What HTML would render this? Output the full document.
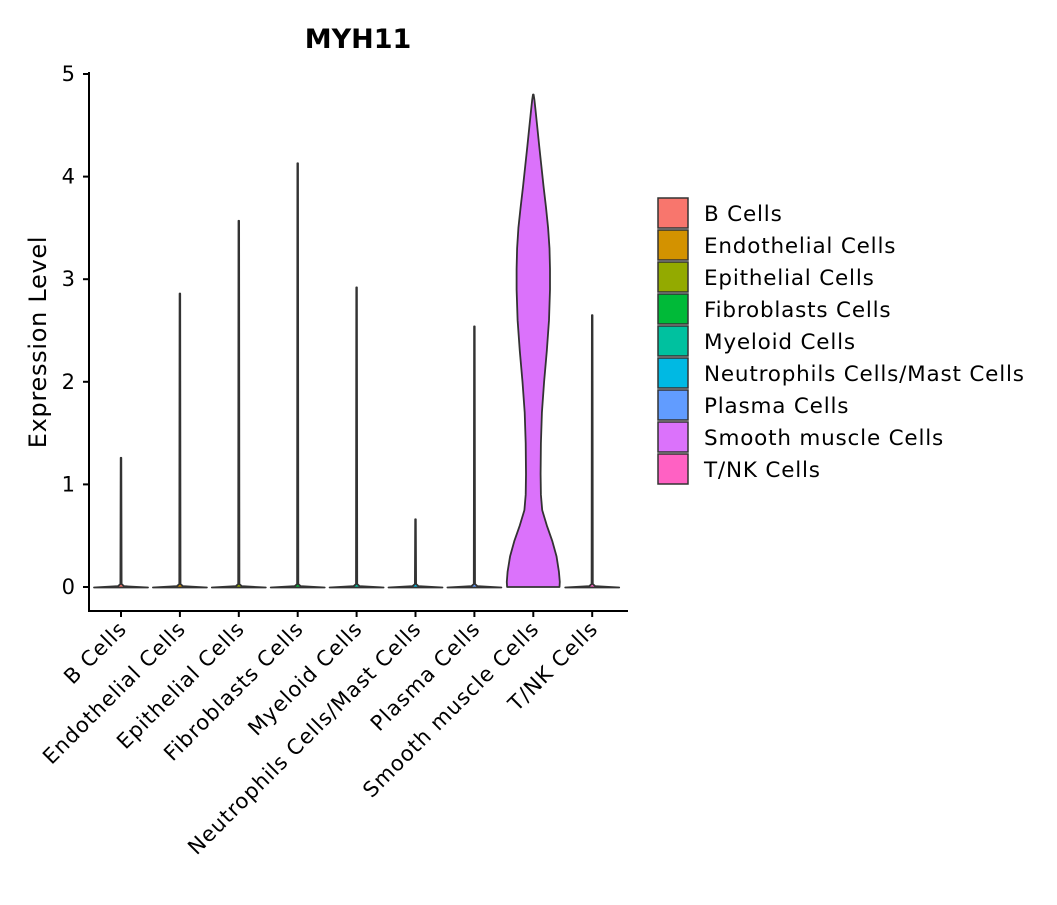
<!DOCTYPE html>
<html><head><meta charset="utf-8"><style>
body{margin:0;background:#fff;}
text{font-family:"DejaVu Sans","Liberation Sans",sans-serif;}
</style></head><body>
<svg id="chart" width="1057" height="900" xmlns="http://www.w3.org/2000/svg">
<text x="358" y="48" text-anchor="middle" font-size="27" font-weight="bold" fill="#000">MYH11</text>
<text transform="translate(46,342) rotate(-90)" text-anchor="middle" font-size="24" letter-spacing="0.7" fill="#000">Expression Level</text>
<g id="plot"></g>
<g id="legend"></g>
</svg>
<script>
const categories=["B Cells","Endothelial Cells","Epithelial Cells","Fibroblasts Cells","Myeloid Cells","Neutrophils Cells/Mast Cells","Plasma Cells","Smooth muscle Cells","T/NK Cells"];
const colors=["#F8766D","#D39200","#93AA00","#00BA38","#00C19F","#00B9E3","#619CFF","#DB72FB","#FF61C3"];
const maxValues=[1.26,2.86,3.57,4.13,2.92,0.66,2.54,4.8,2.65];
const yTicks=[0,1,2,3,4,5];
const smLevels=[0,0.05,0.15,0.3,0.45,0.6,0.75,0.9,1.1,1.4,1.7,2.0,2.3,2.6,2.9,3.1,3.3,3.5,3.7,3.9,4.1,4.3,4.5,4.65,4.75,4.8];
const smDensity=[0.97,0.98,0.95,0.86,0.7,0.5,0.33,0.28,0.27,0.28,0.32,0.4,0.5,0.58,0.62,0.62,0.6,0.55,0.47,0.38,0.3,0.22,0.14,0.08,0.04,0.01];
const NS="http://www.w3.org/2000/svg";
const y=v=>587-v*102.6;
const x=i=>121+i*58.9;
const halfW=27;
const plot=document.getElementById('plot');
function mk(tag,attrs,parent){const e=document.createElementNS(NS,tag);for(const k in attrs)e.setAttribute(k,attrs[k]);parent.appendChild(e);return e;}
const ya=mk('line',{x1:89,y1:72,x2:89,y2:611,stroke:'#000','stroke-width':2},plot);


const xa=mk('line',{x1:88,y1:611,x2:628,y2:611,stroke:'#000','stroke-width':2},plot);


yTicks.forEach(t=>{
 const l=mk('line',{x1:83,y1:y(t),x2:89,y2:y(t),stroke:'#000','stroke-width':2},plot);
 
 
 const tx=mk('text',{x:75,y:y(t)+7,'text-anchor':'end','font-size':21,fill:'#000'},plot);
 tx.textContent=t;
 
 
});
categories.forEach((c,i)=>{
 const cx=x(i);
 let d;
 if(i===7){
  const rp=smLevels.map((v,k)=>[cx+smDensity[k]*halfW,y(v)]);
  const lp=smLevels.map((v,k)=>[cx-smDensity[k]*halfW,y(v)]).reverse();
  const pts=rp.concat(lp);
  d='M'+pts.map(p=>p[0].toFixed(1)+','+p[1].toFixed(1)).join(' L')+' Z';
 } else {
  const m=maxValues[i];
  d=`M${cx-halfW},${y(0)+0.5} L${cx+halfW},${y(0)+0.5} L${cx+3},${y(0)-0.8} L${cx+0.6},${y(0)-3} L${cx+0.3},${y(m)} L${cx-0.3},${y(m)} L${cx-0.6},${y(0)-3} L${cx-3},${y(0)-0.8} Z`;
 }
 const p=mk('path',{d:d,fill:colors[i],stroke:'#333','stroke-width':1.8,'stroke-linejoin':'round'},plot);
 
 
 const tk=mk('line',{x1:cx,y1:611,x2:cx,y2:617,stroke:'#000','stroke-width':2},plot);
 
 
 const tx=mk('text',{transform:`translate(${cx+7},${630}) rotate(-45)`,'text-anchor':'end','font-size':21,'letter-spacing':1,fill:'#000'},plot);
 tx.textContent=c;
 
 
});
const lg=document.getElementById('legend');
categories.forEach((c,i)=>{
 const ry=198+i*32;
 const r=mk('rect',{x:658,y:ry,width:30,height:30,fill:colors[i],stroke:'#333','stroke-width':1.5},lg);
 
 
 const t=mk('text',{x:704,y:ry+23,'font-size':21.5,'letter-spacing':0.8,fill:'#000'},lg);
 t.textContent=c;
 
 
});
</script>
</body></html>
